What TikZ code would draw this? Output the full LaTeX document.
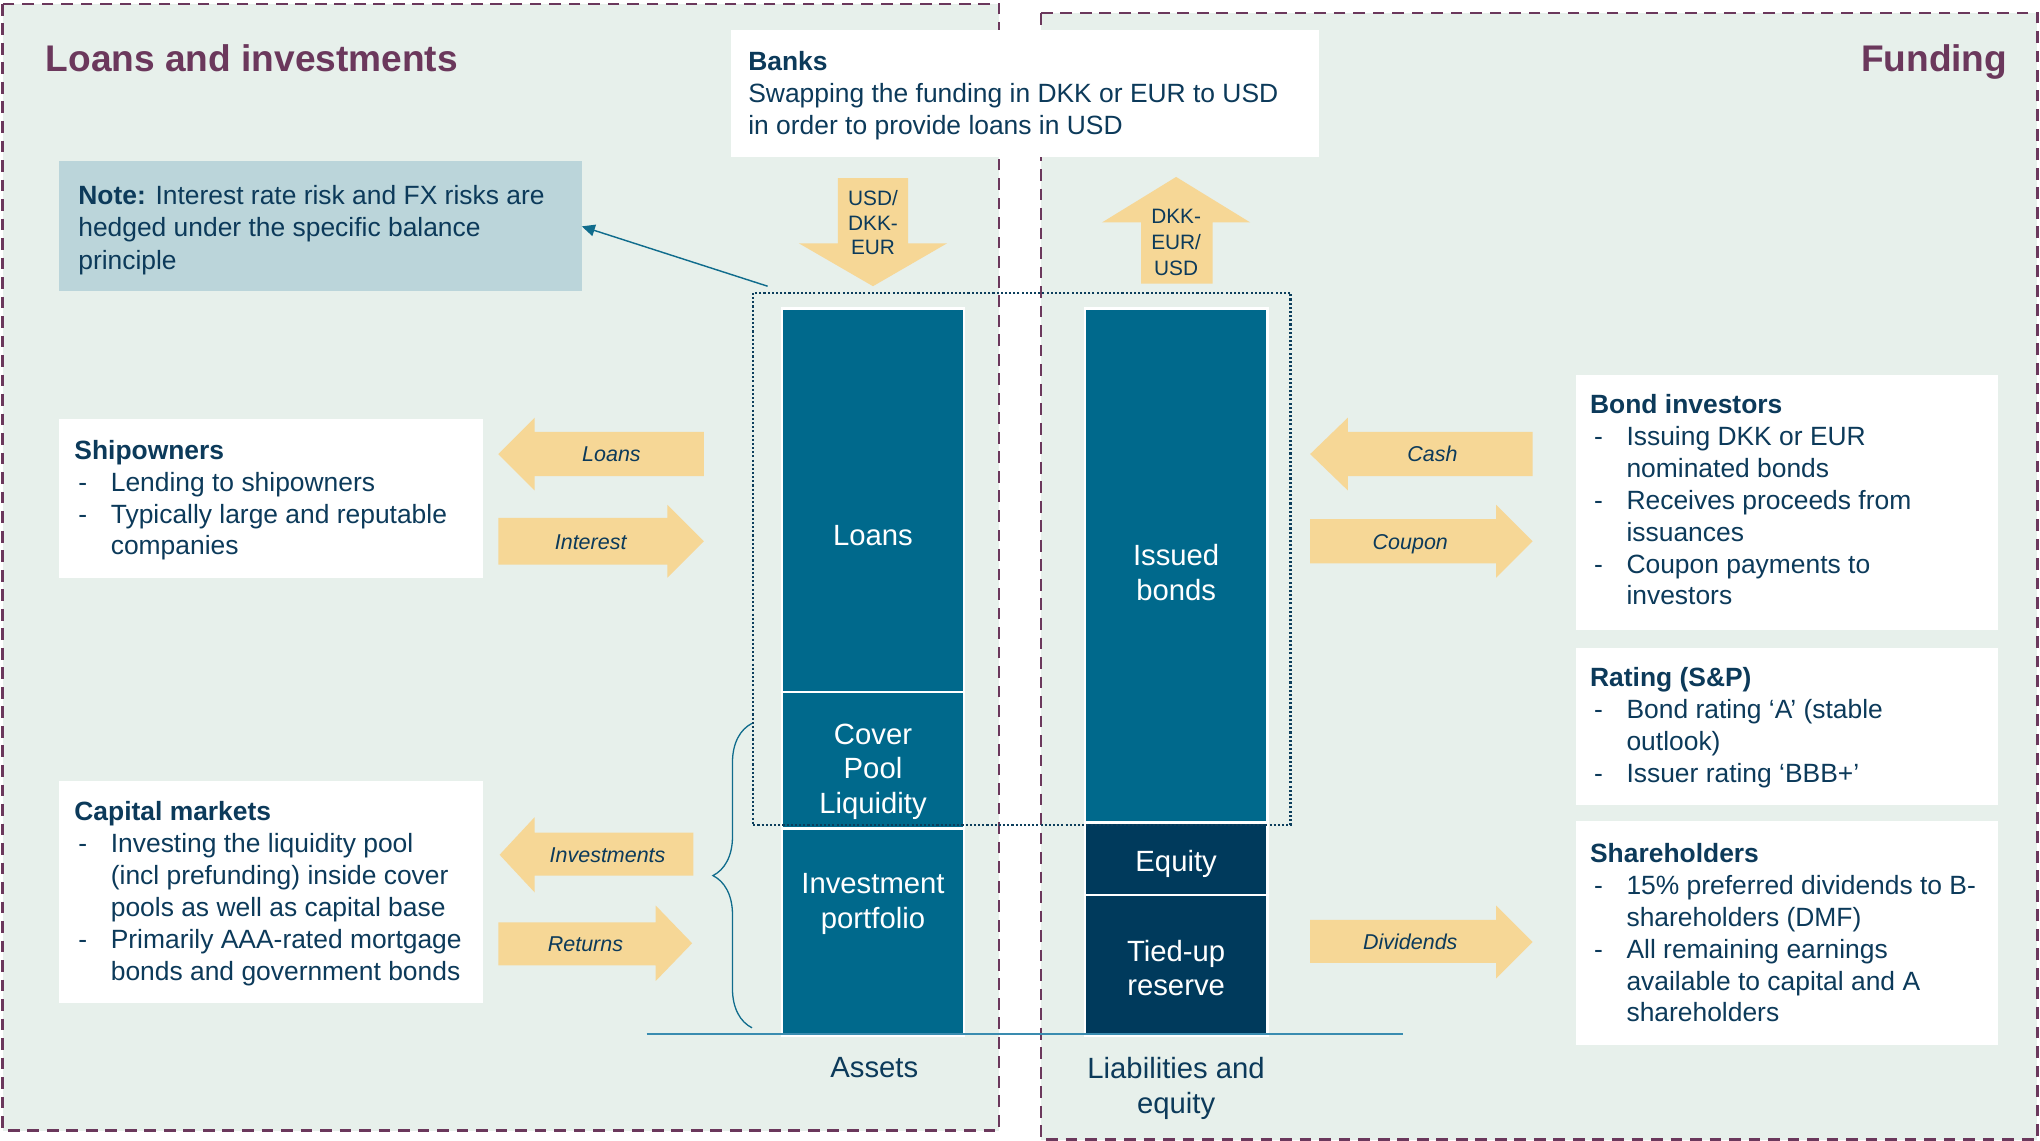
\documentclass[tikz,border=0pt]{standalone}
\usepackage{fontspec}
\setmainfont{Liberation Sans}
\usetikzlibrary{decorations.pathreplacing,arrows.meta}
\definecolor{panel}{RGB}{231,240,235}
\definecolor{plum}{RGB}{107,56,92}
\definecolor{navy}{RGB}{12,58,90}
\definecolor{barblue}{RGB}{0,105,140}
\definecolor{bardark}{RGB}{0,58,92}
\definecolor{gold}{RGB}{246,215,150}
\definecolor{notefill}{RGB}{187,213,218}
\definecolor{linkteal}{RGB}{16,108,140}
\definecolor{baseteal}{RGB}{58,140,176}
\definecolor{dotnavy}{RGB}{12,62,92}
\newcommand\dashitem{\makebox[28pt][l]{\hspace{3pt}-}}
\newcommand\contitem{\hspace*{28pt}}
\tikzset{
  panelbox/.style={fill=panel, draw=plum, line width=1.9pt, dash pattern=on 9pt off 6pt},
  whitebox/.style={fill=white, draw=none, inner sep=0pt},
  notebox/.style={fill=notefill, draw=none, inner sep=0pt},
  bar/.style={fill=barblue, draw=white, line width=2pt, inner sep=0pt},
  darkbar/.style={bar, fill=bardark},
  body/.style={font=\fontsize{20.3}{24.5}\selectfont, text=navy, inner sep=0pt, align=left},
  barlabel/.style={font=\fontsize{22.5}{26.5}\selectfont, text=white, inner sep=0pt, align=center},
  axislabel/.style={font=\fontsize{22.5}{27}\selectfont, text=navy, inner sep=0pt, align=center},
  flowlabel/.style={font=\fontsize{16.5}{19.5}\selectfont\itshape, text=navy, inner sep=0pt},
  fxlabel/.style={font=\fontsize{16}{19}\selectfont, text=navy, inner sep=0pt, align=center},
  goldarrow/.style={fill=gold, draw=none},
  heading/.style={font=\fontsize{28.5}{34}\selectfont\bfseries, text=plum, inner sep=0pt},
  dotframe/.style={draw=dotnavy, line width=1.8pt, dash pattern=on 1.6pt off 1.6pt, inner sep=0pt},
  connector/.style={draw=linkteal, line width=1.1pt, -{Triangle[length=10pt,width=9pt]}},
}
\begin{document}
\begin{tikzpicture}[x=1pt,y=-1pt]
\useasboundingbox (0,0) rectangle (1568,877);
\fill[white] (0,0) rectangle (1568,877);
% panels
\draw[panelbox] (2,3) rectangle (768,869);
\draw[panelbox] (800,10) rectangle (1566,876);
% headings
\node[heading, anchor=base west] (lefthead) at (35,55) {Loans and investments};
\node[heading, anchor=base east] (righthead) at (1543,55) {Funding};
% banks
\node[whitebox, minimum width=452pt, minimum height=98pt] (banks) at (788,72) {};
\node[body, anchor=base west] (bankstext) at (575,103) {\textbf{Banks}\\Swapping the funding in DKK or EUR to USD\\in order to provide loans in USD};
% note
\node[notebox, minimum width=402pt, minimum height=100pt] (note) at (246,174) {};
\node[body, anchor=base west, font=\fontsize{20.3}{25}\selectfont] (notetext) at (60,207) {\textbf{Note:} Interest rate risk and FX risks are\\hedged under the specific balance\\principle};
% FX arrows
\fill[goldarrow] (644,137) -- (698,137) -- (698,187) -- (728,187) -- (671,220) -- (614,187) -- (644,187) -- cycle;
\node[fxlabel, anchor=base] (fxdown) at (671,196) {USD/\\DKK-\\EUR};
\fill[goldarrow] (904,136) -- (961,171) -- (932,171) -- (932,218) -- (877,218) -- (877,171) -- (847,171) -- cycle;
\node[fxlabel, anchor=base, font=\fontsize{16}{20}\selectfont] (fxup) at (904,212) {DKK-\\EUR/\\USD};
% left side boxes
\node[whitebox, minimum width=326pt, minimum height=122pt] (ship) at (208,383) {};
\node[body, anchor=base west] (shiptext) at (57,426.5) {\textbf{Shipowners}\\\dashitem Lending to shipowners\\\dashitem Typically large and reputable\\\contitem companies};
\node[whitebox, minimum width=326pt, minimum height=171pt] (cap) at (208,685.5) {};
\node[body, anchor=base west] (captext) at (57,753.5) {\textbf{Capital markets}\\\dashitem Investing the liquidity pool\\\contitem (incl prefunding) inside cover\\\contitem pools as well as capital base\\\dashitem Primarily AAA-rated mortgage\\\contitem bonds and government bonds};
% right side boxes
\node[whitebox, minimum width=325pt, minimum height=196pt] (bond) at (1373.5,386) {};
\node[body, anchor=base west] (bondtext) at (1222,465) {\textbf{Bond investors}\\\dashitem Issuing DKK or EUR\\\contitem nominated bonds\\\dashitem Receives proceeds from\\\contitem issuances\\\dashitem Coupon payments to\\\contitem investors};
\node[whitebox, minimum width=325pt, minimum height=121pt] (rating) at (1373.5,558.5) {};
\node[body, anchor=base west] (ratingtext) at (1222,601.5) {\textbf{Rating (S\&P)}\\\dashitem Bond rating ‘A’ (stable\\\contitem outlook)\\\dashitem Issuer rating ‘BBB+’};
\node[whitebox, minimum width=325pt, minimum height=172pt] (share) at (1373.5,717) {};
\node[body, anchor=base west] (sharetext) at (1222,785.5) {\textbf{Shareholders}\\\dashitem 15\% preferred dividends to B-\\\contitem shareholders (DMF)\\\dashitem All remaining earnings\\\contitem available to capital and A\\\contitem shareholders};
% flow arrows left
\fill[goldarrow] (383,349) -- (411,321) -- (411,332) -- (541,332) -- (541,366) -- (411,366) -- (411,377) -- cycle;
\node[flowlabel, anchor=base] (lloans) at (470,355) {Loans};
\fill[goldarrow] (383,398) -- (513,398) -- (513,388) -- (541,416) -- (513,444) -- (513,434) -- (383,434) -- cycle;
\node[flowlabel, anchor=base] (linterest) at (454,422) {Interest};
\fill[goldarrow] (384,657) -- (411,628) -- (411,640) -- (533,640) -- (533,673) -- (411,673) -- (411,686) -- cycle;
\node[flowlabel, anchor=base] (linvest) at (467,663) {Investments};
\fill[goldarrow] (383,709) -- (504,709) -- (504,696) -- (532,725) -- (504,754) -- (504,742) -- (383,742) -- cycle;
\node[flowlabel, anchor=base] (lreturns) at (450,731) {Returns};
% flow arrows right
\fill[goldarrow] (1007,349) -- (1036,321) -- (1036,332) -- (1178,332) -- (1178,366) -- (1036,366) -- (1036,377) -- cycle;
\node[flowlabel, anchor=base] (lcash) at (1101,355) {Cash};
\fill[goldarrow] (1007,399) -- (1150,399) -- (1150,388) -- (1178,416) -- (1150,444) -- (1150,433) -- (1007,433) -- cycle;
\node[flowlabel, anchor=base] (lcoupon) at (1084,422) {Coupon};
\fill[goldarrow] (1007,707) -- (1150,707) -- (1150,696) -- (1178,724) -- (1150,752) -- (1150,740) -- (1007,740) -- cycle;
\node[flowlabel, anchor=base] (ldiv) at (1084,730) {Dividends};
% bars
\node[bar, minimum width=140pt, minimum height=297pt] (loansbar) at (671,385.5) {};
\node[bar, minimum width=140pt, minimum height=107pt] (coverbar) at (671,585.5) {};
\node[bar, minimum width=140pt, minimum height=159pt] (investbar) at (671,716.5) {};
\node[bar, minimum width=140pt, minimum height=397pt] (issuedbar) at (904,435.5) {};
\node[darkbar, minimum width=140pt, minimum height=58pt] (equitybar) at (904,661) {};
\node[darkbar, minimum width=140pt, minimum height=108pt] (tiedbar) at (904,742) {};
\node[barlabel, anchor=base] (loanslab) at (671,419) {Loans};
\node[barlabel, anchor=base] (coverlab) at (671,625) {Cover\\Pool\\Liquidity};
\node[barlabel, anchor=base] (investlab) at (671,713.5) {Investment\\portfolio};
\node[barlabel, anchor=base] (issuedlab) at (904,461.5) {Issued\\bonds};
\node[barlabel, anchor=base] (equitylab) at (904,670) {Equity};
\node[barlabel, anchor=base] (tiedlab) at (904,765.5) {Tied-up\\reserve};
% dotted frame
\node[dotframe, minimum width=413pt, minimum height=409pt] (dotbox) at (785.5,429.5) {};
% baseline and axis labels
\draw[baseteal, line width=1.3pt] (497,795) -- (1078,795);
\node[axislabel, anchor=base] (assets) at (672,828) {Assets};
\node[axislabel, anchor=base] (liab) at (904,856) {Liabilities and\\equity};
% brace
\draw[linkteal, line width=1pt, decorate, decoration={brace, amplitude=30pt}] (578,790) -- (578,556);
% connector
\coordinate (ns) at (590,220);
\draw[connector] (ns) -- (note.east);
\end{tikzpicture}
\end{document}
